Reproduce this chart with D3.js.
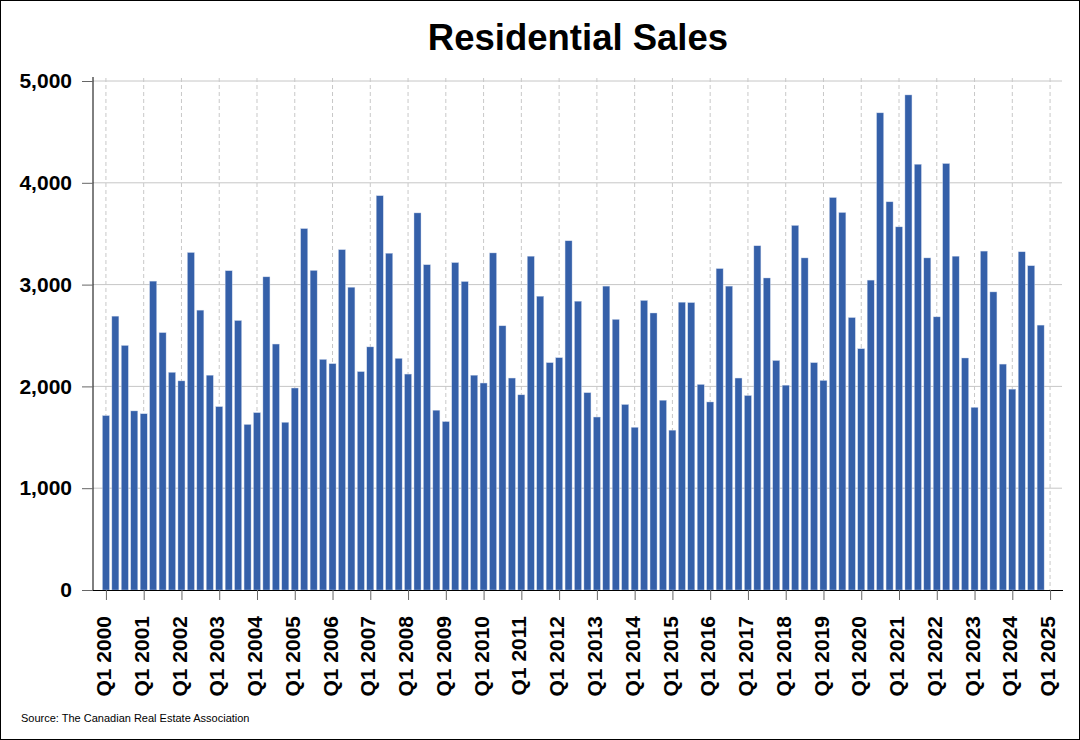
<!DOCTYPE html>
<html>
<head>
<meta charset="utf-8">
<script src="https://cdn.jsdelivr.net/npm/d3@7"></script>
<style>
  body { margin: 0; background: #fff; }
  svg { display: block; font-family: Arial, "Liberation Sans", sans-serif; }
</style>
</head>
<body>
<div id="chart"></div>
<script>
// quarters Q1 2000 .. Q1 2025 (last one has no bar)
const years = d3.range(2000, 2026);
const quarters = [];
years.forEach(y => {
  for (let q = 1; q <= 4; q++) {
    if (y === 2025 && q > 1) break;
    quarters.push("Q" + q + " " + y);
  }
});

// residential sales, one row per year (Q1..Q4)
const sales = [
  1713, 2690, 2402, 1759,
  1731, 3034, 2528, 2138,
  2054, 3315, 2749, 2110,
  1801, 3136, 2647, 1626,
  1742, 3076, 2416, 1647,
  1984, 3550, 3139, 2265,
  2223, 3343, 2974, 2145,
  2388, 3873, 3308, 2275,
  2121, 3704, 3195, 1766,
  1654, 3216, 3030, 2110,
  2033, 3311, 2595, 2082,
  1917, 3279, 2886, 2233,
  2282, 3430, 2837, 1938,
  1699, 2985, 2658, 1822,
  1598, 2844, 2721, 1864,
  1570, 2827, 2823, 2019,
  1847, 3157, 2985, 2082,
  1910, 3381, 3065, 2254,
  2012, 3581, 3262, 2233,
  2058, 3855, 3708, 2676,
  2370, 3044, 4687, 3813,
  3567, 4863, 4182, 3262,
  2683, 4189, 3279, 2279,
  1794, 3329, 2928, 2219,
  1973, 3322, 3185, 2602
];

const yTicks = [0, 1000, 2000, 3000, 4000, 5000];
const xTickLabels = quarters.filter(q => q.startsWith("Q1"));

const width = 1080, height = 740;
const plotLeft = 93, plotRight = 1063, plotTop = 77, plotBottom = 590;

const svg = d3.select("#chart").append("svg")
    .attr("width", width)
    .attr("height", height);

// outer border
svg.append("rect")
    .attr("x", 0.5).attr("y", 0.5)
    .attr("width", width - 1).attr("height", height - 1)
    .attr("fill", "none").attr("stroke", "#000");

const x = d3.scalePoint()
    .domain(quarters)
    .range([plotLeft, plotRight])
    .padding(1.37);

const y = d3.scaleLinear()
    .domain([0, 5000])
    .range([plotBottom, 81]);

const barW = x.step() * 0.74;

// horizontal gridlines
svg.append("g")
  .selectAll("line")
  .data(yTicks.slice(1))
  .enter().append("line")
    .attr("x1", plotLeft).attr("x2", plotRight - 1)
    .attr("y1", d => y(d)).attr("y2", d => y(d))
    .attr("stroke", "#c6c6c6").attr("stroke-width", 1);

// dashed vertical gridlines at each Q1
svg.append("g")
  .selectAll("line")
  .data(xTickLabels)
  .enter().append("line")
    .attr("x1", d => x(d)).attr("x2", d => x(d))
    .attr("y1", plotTop + 1).attr("y2", plotBottom)
    .attr("stroke", "#c8c8c8")
    .attr("stroke-dasharray", "4,3");

// bars
svg.append("g")
  .selectAll("rect")
  .data(sales)
  .enter().append("rect")
    .attr("x", (d, i) => x(quarters[i]) - barW / 2)
    .attr("y", d => y(d))
    .attr("width", barW)
    .attr("height", d => y(0) - y(d))
    .attr("fill", "#3560a9")
    .attr("stroke", "#c9d4ea")
    .attr("stroke-width", 0.4);

// y axis
const yAxis = svg.append("g")
    .attr("transform", "translate(" + plotLeft + ",0)")
    .call(d3.axisLeft(y).tickValues(yTicks).tickFormat(d3.format(",")).tickSize(11).tickSizeOuter(0));
yAxis.select(".domain").attr("d", "M0," + plotTop + "V" + plotBottom);
yAxis.selectAll(".tick line").attr("stroke", "#666");
yAxis.selectAll("text")
    .attr("x", -21)
    .attr("font-size", 21)
    .attr("font-weight", "bold")
    .attr("fill", "#000")
    .attr("font-family", "Arial, 'Liberation Sans', sans-serif");

// x axis
const xAxis = svg.append("g")
    .attr("transform", "translate(0," + plotBottom + ")")
    .call(d3.axisBottom(x).tickValues(xTickLabels).tickSize(10).tickSizeOuter(0));
xAxis.select(".domain").attr("d", "M" + plotLeft + ",0.5H" + plotRight);
xAxis.selectAll(".tick line").attr("stroke", "#666");
xAxis.selectAll("text")
    .attr("transform", "rotate(-90)")
    .attr("x", -26)
    .attr("y", 0)
    .attr("dy", "0.22em")
    .attr("text-anchor", "end")
    .attr("font-size", 21)
    .attr("font-weight", "bold")
    .attr("fill", "#000")
    .attr("font-family", "Arial, 'Liberation Sans', sans-serif");

// title
svg.append("text")
    .attr("x", (plotLeft + plotRight) / 2)
    .attr("y", 50)
    .attr("text-anchor", "middle")
    .attr("font-size", 36.5)
    .attr("font-weight", "bold")
    .text("Residential Sales");

// source
svg.append("text")
    .attr("x", 21)
    .attr("y", 722)
    .attr("font-size", 11)
    .text("Source: The Canadian Real Estate Association");
</script>
</body>
</html>
